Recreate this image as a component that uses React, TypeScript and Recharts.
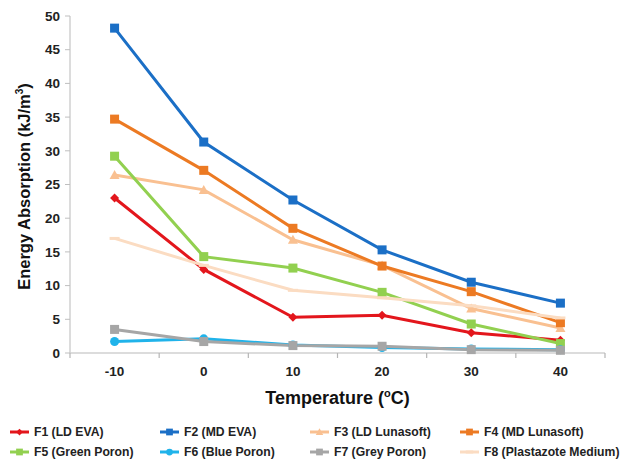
import React from 'react';
import { LineChart, Line, XAxis, YAxis } from 'recharts';

const temperatures = [-10, 0, 10, 20, 30, 40];
const f1 = [23.0, 12.4, 5.3, 5.6, 3.0, 1.9];
const f2 = [48.2, 31.3, 22.7, 15.3, 10.5, 7.4];
const f3 = [26.4, 24.2, 16.8, 13.0, 6.6, 3.7];
const f4 = [34.7, 27.1, 18.5, 12.9, 9.1, 4.5];
const f5 = [29.2, 14.3, 12.6, 9.0, 4.3, 1.4];
const f6 = [1.7, 2.1, 1.2, 0.8, 0.6, 0.5];
const f7 = [3.5, 1.7, 1.1, 1.0, 0.5, 0.4];
const f8 = [17.0, 13.0, 9.3, 8.2, 7.0, 5.2];
const yTicks = [0, 5, 10, 15, 20, 25, 30, 35, 40, 45, 50];
const xTicks = [-10, 0, 10, 20, 30, 40];
const boundaryTicks = [-15, -5, 5, 15, 25, 35, 45];
const allXTicks = [...boundaryTicks, ...xTicks].sort((a, b) => a - b);

const series = [
  { key: 'f1', name: 'F1 (LD EVA)', color: '#e3161c', marker: 'diamond', values: f1 },
  { key: 'f2', name: 'F2 (MD EVA)', color: '#1b6fc6', marker: 'square', values: f2 },
  { key: 'f3', name: 'F3 (LD Lunasoft)', color: '#f9c091', marker: 'triangle', values: f3 },
  { key: 'f4', name: 'F4 (MD Lunasoft)', color: '#ec7a23', marker: 'square', values: f4 },
  { key: 'f5', name: 'F5 (Green Poron)', color: '#92d050', marker: 'square', values: f5 },
  { key: 'f6', name: 'F6 (Blue Poron)', color: '#20b3ea', marker: 'circle', values: f6 },
  { key: 'f7', name: 'F7 (Grey Poron)', color: '#a6a6a6', marker: 'square', values: f7 },
  { key: 'f8', name: 'F8 (Plastazote Medium)', color: '#fbdcc2', marker: 'dash', values: f8 },
];

const data = temperatures.map((t, i) => {
  const row: any = { t };
  series.forEach((s) => (row[s.key] = s.values[i]));
  return row;
});

const FONT = '"Liberation Sans", Arial, sans-serif';
const X_TICK_SIZE = 6;
const X_TICK_MARGIN = 7;

function Marker({ cx, cy, type, color, small }: any) {
  if (cx == null || cy == null || type === 'none') return null;
  const k = small ? 0.75 : 1;
  if (type === 'square') {
    const s = 9 * k;
    return <rect x={cx - s / 2} y={cy - s / 2} width={s} height={s} fill={color} />;
  }
  if (type === 'diamond') {
    const s = 4.5 * k;
    return <polygon points={`${cx},${cy - s} ${cx + s},${cy} ${cx},${cy + s} ${cx - s},${cy}`} fill={color} />;
  }
  if (type === 'triangle') {
    const s = 5 * k;
    return <polygon points={`${cx},${cy - s} ${cx + s},${cy + s * 0.8} ${cx - s},${cy + s * 0.8}`} fill={color} />;
  }
  if (type === 'circle') {
    return <circle cx={cx} cy={cy} r={4.5 * k} fill={color} />;
  }
  if (type === 'dash') {
    return <rect x={cx - 5 * k} y={cy - 1.5} width={10 * k} height={3} fill={color} />;
  }
  return null;
}

function XTick({ x, y, payload }: any) {
  const v = payload.value;
  if (boundaryTicks.includes(v)) {
    const axisY = y - X_TICK_SIZE - X_TICK_MARGIN;
    return <line x1={x} x2={x} y1={axisY} y2={axisY + 5} stroke="#b5b5b5" strokeWidth={1.2} />;
  }
  return (
    <text x={x} y={y} dy="0.71em" textAnchor="middle" fontFamily={FONT} fontSize={13.5} fontWeight="bold" fill="#222">
      {v}
    </text>
  );
}

function YLabel({ viewBox }: any) {
  const x = viewBox.x + 30;
  const y = viewBox.y + viewBox.height / 2 + 2;
  return (
    <text x={x} y={y} transform={`rotate(-90, ${x}, ${y})`} textAnchor="middle" fontFamily={FONT}
      fontSize={16.5} fontWeight="bold" fill="#111">
      <tspan>Energy Absorption (kJ/m</tspan>
      <tspan fontSize={10} dy={-7}>3</tspan>
      <tspan dy={7}>)</tspan>
    </text>
  );
}

function XLabel({ viewBox }: any) {
  const x = viewBox.x + viewBox.width / 2;
  const y = viewBox.y + 51;
  return (
    <text x={x} y={y} textAnchor="middle" fontFamily={FONT} fontSize={18} fontWeight="bold" fill="#111">
      <tspan>Temperature (</tspan>
      <tspan fontSize={11} dy={-7}>o</tspan>
      <tspan dy={7}>C)</tspan>
    </text>
  );
}

function LegendBlock() {
  const cols = [9, 159, 309, 459];
  return (
    <div style={{ position: 'absolute', left: 0, top: 423, width: 625, height: 40, fontFamily: FONT }}>
      {series.map((s, i) => {
        const col = i % 4;
        const row = Math.floor(i / 4);
        return (
          <div key={s.key} style={{ position: 'absolute', left: cols[col], top: row * 20, height: 18, display: 'flex', alignItems: 'center', whiteSpace: 'nowrap' }}>
            <svg width={21} height={18} style={{ display: 'block' }}>
              <line x1={1} y1={9} x2={20} y2={9} stroke={s.color} strokeWidth={3} />
              <Marker cx={10.5} cy={9} type={s.marker} color={s.color} small />
            </svg>
            <span style={{ fontSize: 12.2, fontWeight: 'bold', color: '#222', marginLeft: 4 }}>{s.name}</span>
          </div>
        );
      })}
    </div>
  );
}

export default function App() {
  return (
    <div style={{ position: 'absolute', left: 0, top: 0, width: 625, height: 461, background: '#fff' }}>
      <LineChart width={625} height={412} data={data} margin={{ top: 16, right: 20, left: 0, bottom: 0 }}>
        <XAxis dataKey="t" type="number" domain={[-15, 45]} ticks={allXTicks} interval={0}
          height={59} axisLine={{ stroke: '#d0d0d0', strokeWidth: 1.5 }} tickLine={false}
          tickSize={X_TICK_SIZE} tickMargin={X_TICK_MARGIN}
          tick={<XTick />} label={<XLabel />} />
        <YAxis domain={[0, 50]} ticks={yTicks} width={70} axisLine={{ stroke: '#d0d0d0', strokeWidth: 1.5 }}
          tickLine={{ stroke: '#bfbfbf' }} tickSize={5} tickMargin={5}
          tick={{ fontFamily: FONT, fontSize: 13.5, fontWeight: 'bold', fill: '#222' }}
          label={<YLabel />} />
        {series.map((s) => (
          <Line key={s.key} dataKey={s.key} name={s.name} type="linear" stroke={s.color}
            strokeWidth={3} isAnimationActive={false}
            dot={(p: any) => <Marker key={`${s.key}-${p.index}`} cx={p.cx} cy={p.cy} type={s.marker} color={s.color} />}
            activeDot={false} />
        ))}
      </LineChart>
      <LegendBlock />
    </div>
  );
}
